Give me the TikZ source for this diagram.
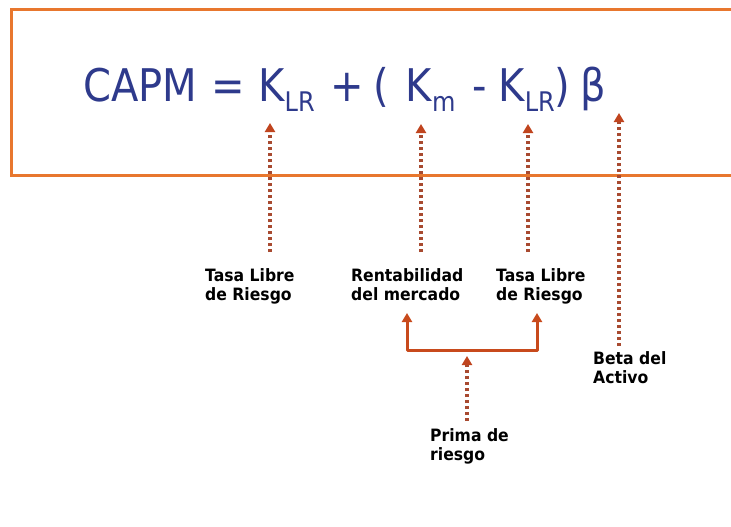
\documentclass[tikz,border=0pt]{standalone}
\usepackage{fontspec}
\setmainfont{DejaVu Sans}
\newfontfamily\formfont[FakeStretch=0.89]{DejaVu Sans}
\newfontfamily\lblfont[FakeStretch=0.92]{DejaVu Sans}
\usetikzlibrary{arrows.meta}
\definecolor{frameor}{HTML}{E8772E}
\definecolor{formblue}{HTML}{2E3A8C}
\definecolor{dotred}{HTML}{A84A30}
\definecolor{tipred}{HTML}{C0441E}
\definecolor{brack}{HTML}{C84A1C}
\newcommand{\subsc}[1]{\raisebox{-10pt}{\fontsize{27}{27}\selectfont #1}}
\newcommand{\hs}[1]{\hspace{#1pt}}
\begin{document}
\begin{tikzpicture}[x=1pt,y=-1pt,
  lbl/.style={font=\lblfont\bfseries\fontsize{17}{19}\selectfont, align=left, anchor=north west, inner sep=0pt},
  ptr/.style={draw=dotred, line width=3.5pt, dash pattern=on 3pt off 3pt,
    -{Triangle[width=10pt,length=9pt,color=tipred]}},
  brk/.style={draw=brack, line width=3pt, line join=round,
    {Triangle[width=10pt,length=9pt]}-{Triangle[width=10pt,length=9pt]}}]
\useasboundingbox (0,0) rectangle (731,527);
\clip (0,0) rectangle (731,527);
\fill[white] (0,0) rectangle (731,527);
% frame
\draw[frameor, line width=3pt] (11,10) rectangle (745,175);
% formula
\node[anchor=base west, inner sep=0pt, text=formblue] (formula) at (83,101)
  {\formfont\fontsize{45}{45}\selectfont CAPM\hs{14.3}=\hs{13.3}K\subsc{LR}\hs{15.3}+\hs{10.3}(\hs{16.3}K\subsc{m}\hs{17.3}-\hs{11.3}K\subsc{LR})\hs{10.3}β};
% labels
\node[lbl] (l1) at (205,268) {Tasa Libre\\de Riesgo};
\node[lbl] (l2) at (351,268) {Rentabilidad\\del mercado};
\node[lbl] (l3) at (496,268) {Tasa Libre\\de Riesgo};
\node[lbl] (l4) at (593,351) {Beta del\\Activo};
\node[lbl] (l5) at (430,428) {Prima de\\riesgo};
% coordinates
\coordinate (s1) at (270,252); \coordinate (t1) at (270,123);
\coordinate (s2) at (421,252); \coordinate (t2) at (421,124);
\coordinate (s3) at (528,252); \coordinate (t3) at (528,124);
\coordinate (s4) at (619,346); \coordinate (t4) at (619,113);
\coordinate (s5) at (467,421); \coordinate (t5) at (467,356);
\coordinate (bl) at (407,313); \coordinate (br) at (537,313);
% pointers
\draw[ptr] (s1) -- (t1);
\draw[ptr] (s2) -- (t2);
\draw[ptr] (s3) -- (t3);
\draw[ptr] (s4) -- (t4);
\draw[ptr] (s5) -- (t5);
% bracket
\draw[brk] (bl) -- (407,350) -- (537,350) -- (br);
\end{tikzpicture}
\end{document}
